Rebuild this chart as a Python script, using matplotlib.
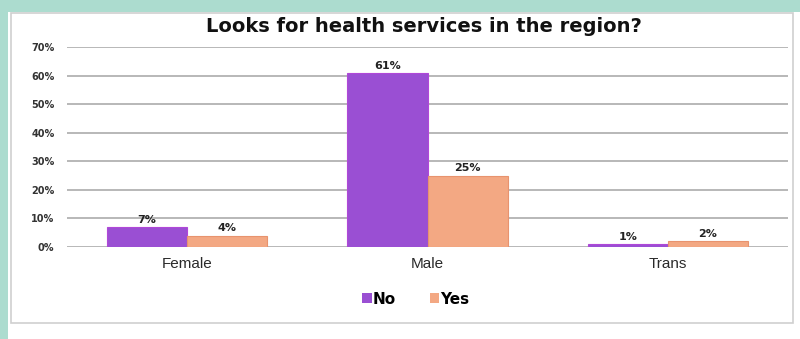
import matplotlib
matplotlib.use("Agg")
import matplotlib.pyplot as plt
import numpy as np
from matplotlib.patches import Rectangle

categories = ["Female", "Male", "Trans"]
series_names = ["No", "Yes"]
no_values = [0.07, 0.61, 0.01]
yes_values = [0.04, 0.25, 0.02]
value_labels_no = ["7%", "61%", "1%"]
value_labels_yes = ["4%", "25%", "2%"]
yticks = [0.0, 0.1, 0.2, 0.3, 0.4, 0.5, 0.6, 0.7]
ytick_labels = ["0%", "10%", "20%", "30%", "40%", "50%", "60%", "70%"]
title = "Looks for health services in the region?"

W, H = 800, 339
fig = plt.figure(figsize=(W / 100, H / 100), dpi=100)
fig.patch.set_facecolor("#acdccf")

# white panel and its grey border
fig.add_artist(Rectangle((8 / W, 0), 1 - 8 / W, 1 - 12 / H, transform=fig.transFigure,
                         facecolor="white", edgecolor="none", zorder=0))
fig.add_artist(Rectangle((11 / W, 1 - 323 / H), (793 - 11) / W, (323 - 13) / H,
                         transform=fig.transFigure, facecolor="none",
                         edgecolor="#cfcfcf", linewidth=1.2, zorder=1))

ax = fig.add_axes([67 / W, 1 - 247 / H, (788 - 67) / W, (247 - 47) / H])
ax.set_facecolor("none")

x = np.arange(len(categories))
bw = 1 / 3
c_no = "#9a4fd3"
c_yes = "#f3a883"
b1 = ax.bar(x - bw / 2, no_values, bw, color=c_no, edgecolor="#b048d8", linewidth=0.8,
            label=series_names[0], zorder=3)
b2 = ax.bar(x + bw / 2, yes_values, bw, color=c_yes, edgecolor="#e8936e", linewidth=0.8,
            label=series_names[1], zorder=3)

for rect, lab in list(zip(b1, value_labels_no)) + list(zip(b2, value_labels_yes)):
    ax.annotate(lab, (rect.get_x() + rect.get_width() / 2, rect.get_height()),
                xytext=(0, 1.5), textcoords="offset points", ha="center", va="bottom",
                fontsize=8, fontweight="bold", color="#222222", family="DejaVu Sans")

ax.set_xlim(-0.5, 2.5)
ax.set_ylim(0, 0.7)
ax.set_yticks(yticks)
ax.set_yticklabels(ytick_labels, fontsize=7, fontweight="bold", color="#333333",
                   family="DejaVu Sans")
ax.set_xticks(x)
ax.set_xticklabels(categories, fontsize=11, color="#2a2a2a", family="Liberation Sans")
ax.tick_params(axis="y", length=0, pad=9)
ax.tick_params(axis="x", length=0, pad=7)
for s in ax.spines.values():
    s.set_visible(False)
ax.yaxis.grid(True, color="#b8b8b8", linewidth=1.4, zorder=0)
ax.set_axisbelow(True)

fig.text(424 / W, 1 - 27 / H, title, ha="center", va="center", fontsize=14,
         fontweight="bold", family="DejaVu Sans", color="#111111")

leg = fig.legend(handles=[b1, b2], labels=series_names, loc="center",
                 bbox_to_anchor=(416 / W, 1 - 299 / H), ncol=2, frameon=False,
                 prop={"family": "DejaVu Sans", "weight": "bold", "size": 11},
                 handlelength=0.6, handleheight=0.6, handletextpad=0.1,
                 columnspacing=2.2)
for h in leg.legend_handles:
    h.set_linewidth(0)

fig.savefig("out.png", dpi=100, facecolor=fig.get_facecolor())
